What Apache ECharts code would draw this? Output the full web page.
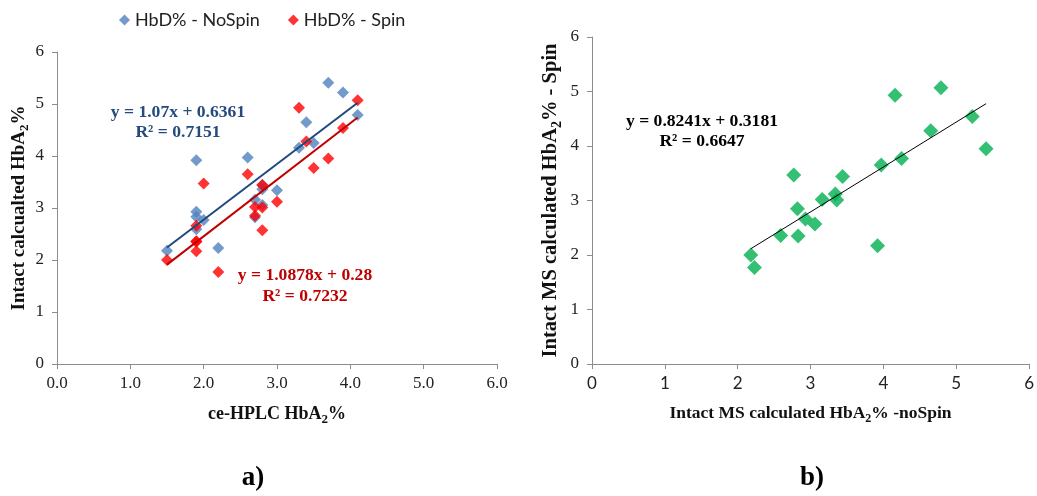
<!DOCTYPE html>
<html>
<head>
<meta charset="utf-8">
<script src="https://cdn.jsdelivr.net/npm/echarts@6/dist/echarts.min.js"></script>
<style>
  html, body { margin: 0; padding: 0; background: #fff; }
  #chart { width: 1037px; height: 496px; }
</style>
</head>
<body>
<div id="chart"></div>
<script>
// Per-sample HbA2 values (%): ce-HPLC reference, intact MS without spin, intact MS with spin
const hplc   = [1.5, 1.9, 1.9, 1.9, 1.9, 2.0, 2.2, 2.6, 2.7, 2.7, 2.8, 2.8, 2.8, 3.0, 3.3, 3.4, 3.5, 3.7, 3.9, 4.1];
const noSpin = [2.18, 3.92, 2.93, 2.83, 2.59, 2.77, 2.23, 3.97, 3.16, 2.82, 3.44, 3.36, 3.06, 3.34, 4.16, 4.65, 4.25, 5.41, 5.22, 4.79];
const spin   = [2.00, 2.17, 2.66, 2.35, 2.36, 3.47, 1.77, 3.65, 3.02, 2.85, 3.44, 3.01, 2.57, 3.12, 4.93, 4.28, 3.77, 3.95, 4.54, 5.07];

// Linear fits as reported on the plots: [slope, intercept, R²]
const fitNoSpin = [1.07, 0.6361, 0.7151];
const fitSpin   = [1.0878, 0.28, 0.7232];
const fitMS     = [0.8241, 0.3181, 0.6647];

const SERIF = '"Liberation Serif", "Times New Roman", serif';
const SANS = 'Lato, "Open Sans", sans-serif';

function pairs(xs, ys) { return xs.map((x, i) => [x, ys[i]]); }
function fitLine(xs, fit) {
  const lo = Math.min(...xs), hi = Math.max(...xs);
  return [[lo, fit[0] * lo + fit[1]], [hi, fit[0] * hi + fit[1]]];
}
function eqText(fit) {
  return 'y = ' + fit[0] + 'x + ' + fit[1];
}

// bold serif title with a lowered "2" for HbA2
function subRich(size) {
  return {
    b: { fontFamily: SERIF, fontWeight: 'bold', fontSize: size, color: '#111', verticalAlign: 'middle' },
    s: { fontFamily: SERIF, fontWeight: 'bold', fontSize: Math.round(size * 0.7), color: '#111',
         verticalAlign: 'bottom', padding: [Math.round(size * 0.6), 0, 0, 0] }
  };
}

const axisLine = { show: true, lineStyle: { color: '#8c8c8c', width: 1 } };
const axisTick = { show: true, inside: false, length: 5, lineStyle: { color: '#8c8c8c' } };

function makeX(gridIndex, decimals, fontFamily, name, titleSize, gap) {
  return {
    type: 'value', gridIndex, min: 0, max: 6, interval: 1,
    axisLine, axisTick, splitLine: { show: false },
    axisLabel: { fontFamily, fontSize: 17, color: '#222', margin: 11,
      formatter: v => v.toFixed(decimals) },
    name, nameLocation: 'middle', nameGap: gap,
    nameTextStyle: { rich: subRich(titleSize) }
  };
}
function makeY(gridIndex, name, titleSize, gap) {
  return {
    type: 'value', gridIndex, min: 0, max: 6, interval: 1,
    axisLine, axisTick, splitLine: { show: false },
    axisLabel: { fontFamily: SERIF, fontSize: 17, color: '#222', margin: 13 },
    name, nameLocation: 'middle', nameGap: gap, nameRotate: 90,
    nameTextStyle: { rich: subRich(titleSize) }
  };
}

function eqGraphic(x, y1, y2, fit, color) {
  const style = { fontFamily: SERIF, fontWeight: 'bold', fontSize: 17.6, fill: color, align: 'center', verticalAlign: 'middle' };
  return [
    { type: 'text', x, y: y1, style: Object.assign({ text: eqText(fit) }, style) },
    { type: 'text', x, y: y2, style: Object.assign({ text: 'R² = ' + fit[2] }, style) }
  ];
}

const option = {
  animation: false,
  backgroundColor: '#fff',
  legend: {
    left: 114, top: 6,
    itemWidth: 11, itemHeight: 11, itemGap: 28,
    icon: 'diamond',
    textStyle: { fontFamily: SANS, fontSize: 18, color: '#222' },
    data: ['HbD% - NoSpin', 'HbD% - Spin']
  },
  grid: [
    { left: 57, top: 52, width: 440, height: 312 },
    { left: 592, top: 37, width: 441, height: 327 }
  ],
  xAxis: [
    makeX(0, 1, SERIF, '{b|ce-HPLC HbA}{s|2}{b|%}', 18, 38),
    makeX(1, 0, SANS, '{b|Intact MS calculated HbA}{s|2}{b|% -noSpin}', 17.5, 38)
  ],
  yAxis: [
    makeY(0, '{b|Intact calcualted HbA}{s|2}{b|%}', 19, 26),
    makeY(1, '{b|Intact MS calculated HbA}{s|2}{b|% - Spin}', 20.5, 28)
  ],
  series: [
    {
      name: 'HbD% - NoSpin', type: 'scatter', xAxisIndex: 0, yAxisIndex: 0,
      symbol: 'diamond', symbolSize: 12,
      itemStyle: { color: '#4F81BD' }, z: 3,
      data: pairs(hplc, noSpin)
    },
    {
      name: 'HbD% - Spin', type: 'scatter', xAxisIndex: 0, yAxisIndex: 0,
      symbol: 'diamond', symbolSize: 12,
      itemStyle: { color: '#FF0000' }, z: 4,
      data: pairs(hplc, spin)
    },
    {
      name: 'fit NoSpin', type: 'line', xAxisIndex: 0, yAxisIndex: 0,
      symbol: 'none', lineStyle: { color: '#1F497D', width: 2 }, z: 5,
      data: fitLine(hplc, fitNoSpin)
    },
    {
      name: 'fit Spin', type: 'line', xAxisIndex: 0, yAxisIndex: 0,
      symbol: 'none', lineStyle: { color: '#C00000', width: 2 }, z: 5,
      data: fitLine(hplc, fitSpin)
    },
    {
      name: 'MS', type: 'scatter', xAxisIndex: 1, yAxisIndex: 1,
      symbol: 'diamond', symbolSize: 15,
      itemStyle: { color: '#00B050' }, z: 3,
      data: pairs(noSpin, spin)
    },
    {
      name: 'fit MS', type: 'line', xAxisIndex: 1, yAxisIndex: 1,
      symbol: 'none', lineStyle: { color: '#000', width: 1 }, z: 5,
      data: fitLine(noSpin, fitMS)
    }
  ],
  graphic: [
    ...eqGraphic(178, 112, 132, fitNoSpin, '#254A7D'),
    ...eqGraphic(305, 275, 296, fitSpin, '#C00000'),
    ...eqGraphic(702, 121, 141, fitMS, '#000'),
    { type: 'text', x: 253, y: 478, style: { text: 'a)', fontFamily: SERIF, fontWeight: 'bold', fontSize: 27, fill: '#000', align: 'center', verticalAlign: 'middle' } },
    { type: 'text', x: 812, y: 478, style: { text: 'b)', fontFamily: SERIF, fontWeight: 'bold', fontSize: 27, fill: '#000', align: 'center', verticalAlign: 'middle' } }
  ]
};

const chart = echarts.init(document.getElementById('chart'), null, { renderer: 'canvas' });
chart.setOption(option);
</script>
</body>
</html>
